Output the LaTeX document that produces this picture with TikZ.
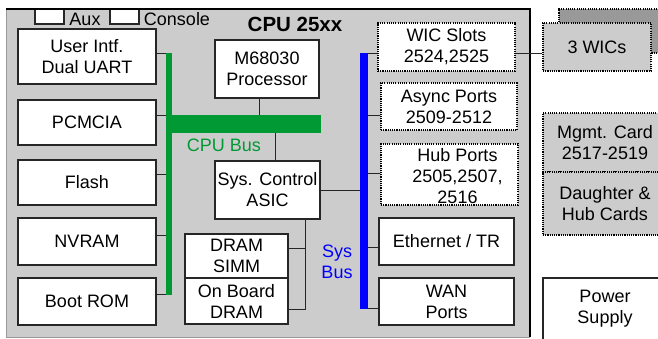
\documentclass[tikz,border=0pt]{standalone}
\usepackage{fontspec}
\setmainfont{Liberation Sans}
\usetikzlibrary{positioning}
\definecolor{busgreen}{RGB}{0,153,51}
\definecolor{busblue}{RGB}{0,0,255}
\definecolor{panelgray}{RGB}{204,204,204}
\definecolor{backgray}{RGB}{153,153,153}
\tikzset{
  blk/.style={draw=black!85,line width=1.2pt,fill=white,inner sep=0pt,align=center},
  dotblk/.style={blk,draw=black,dash pattern=on 1.1pt off 1.1pt,line width=1.4pt},
  wire/.style={line width=1pt,draw=black!85},
  bus/.style={inner sep=0pt,draw=none}
}
% box from corner (x1,y1) to corner (x2,y2), in pixels of the sheet
\newcommand{\hwbox}[7][blk]{%
  \node[#1,minimum width={#5pt-#3pt},minimum height={#6pt-#4pt}] (#2)
    at ({(#3+#5)/2},{(#4+#6)/2}) {#7};
}

\begin{document}
\begin{tikzpicture}[x=1pt,y=-1pt,font=\fontsize{18}{21}\selectfont]
    \useasboundingbox (0,0) rectangle (658,338);
    % cpu board
    \fill[panelgray] (6,9) rectangle (530,337);
    \hwbox{aux}{35}{9}{64}{24}{}
    \hwbox{console}{110}{9}{139}{24}{}
    \draw[backgray,line width=1pt] (6,9) -- (6,337) -- (530,337);
    \draw[black,line width=1.6pt] (6,9) -- (530,9) -- (530,337);
    \node (auxlbl) at (85,19) {Aux};
    \node (conlbl) at (177,19) {Console};
    \node[font=\fontsize{20.5}{24}\selectfont\bfseries] (title) at (295,24.5) {CPU 25xx};
    % left column
    \hwbox{uart}{18}{29}{156}{84}{User Intf.\\Dual UART}
    \hwbox{pcmcia}{18}{100}{156}{145}{PCMCIA}
    \hwbox{flash}{18}{160}{156}{205}{Flash}
    \hwbox{nvram}{18}{218}{156}{265}{NVRAM}
    \hwbox{bootrom}{18}{278}{156}{325}{Boot ROM}
    % middle
    \hwbox{cpu}{215}{40}{319}{98}{M68030\\Processor}
    \hwbox{asic}{215}{161}{320}{219}{Sys. Control\\ASIC}
    \hwbox{simm}{185}{234}{288}{278}{DRAM\\SIMM}
    \hwbox{obdram}{185}{278}{288}{324}{On Board\\DRAM}
    % right column
    \hwbox[dotblk]{wic}{378}{23}{515}{71}{WIC Slots\\2524,2525}
    \hwbox[dotblk]{async}{381}{83}{517}{130}{Async Ports\\2509-2512}
    \hwbox[dotblk]{hub}{381}{144}{518}{205}{}
    \node[align=center] (hublbl) at ([xshift=8pt,yshift=-1.5pt]hub.center) {Hub Ports\\2505,2507,\\2516};
    \hwbox{ether}{379}{218}{514}{265}{Ethernet / TR}
    \hwbox{wan}{379}{278}{514}{325}{WAN\\Ports}
    % outside the board
    \hwbox[dotblk,fill=backgray]{wicsback}{559}{9}{675}{53}{}
    \hwbox[dotblk,fill=panelgray]{wics}{543}{23}{651}{71}{3 WICs}
    \hwbox[dotblk,fill=panelgray]{mgmt}{543}{113}{667}{172}{Mgmt. Card\\2517-2519}
    \hwbox[dotblk,fill=panelgray]{daughter}{543}{172}{667}{235}{Daughter \&\\Hub Cards}
    \hwbox{power}{543}{278}{667}{340}{Power\\Supply}
    % buses
    \node[bus,fill=busgreen,minimum width=6pt,minimum height=242pt] (gbus) at (169,174) {};
    \node[bus,fill=busgreen,minimum width=155pt,minimum height=18pt] (gbar) at (243.5,124) {};
    \node[bus,fill=busblue,minimum width=8pt,minimum height=256pt] (bbus) at (364,181) {};
    \node[text=busgreen] (gbuslbl) at (224,145) {CPU Bus};
    \node[text=busblue,align=center] (bbuslbl) at (337,262) {Sys\\Bus};
    % stubs to the cpu bus
    \foreach \unit/\dy in {uart/3.5,pcmcia/7.5,flash/8.5,nvram/6.5,bootrom/7.5}
      \draw[wire] ([yshift=\dy pt]\unit.east) -- ([yshift=\dy pt]\unit.east -| gbus.west);
    \draw[wire] ([xshift=-8pt]cpu.south) -- ([xshift=-8pt]cpu.south |- gbar.north);
    \draw[wire] ([xshift=7.5pt]asic.north) -- ([xshift=7.5pt]asic.north |- gbar.south);
    % dram
    \coordinate (ramtap) at ([xshift=37.5pt]asic.south);
    \draw[wire] (ramtap) |- ([yshift=-8pt]obdram.east);
    \draw[wire] ([yshift=8pt]simm.east) -- ([yshift=8pt]simm.east -| ramtap);
    % stubs to the sys bus
    \draw[wire] (asic.east) -- (asic.east -| bbus.west);
    \foreach \unit/\dy in {wic/-6,async/-8.5,hub/1.5,ether/-5.5,wan/-6.5}
      \draw[wire] ([yshift=\dy pt]\unit.west) -- ([yshift=\dy pt]\unit.west -| bbus.east);
    \draw[wire] ([yshift=-6pt]wic.east) -- ([yshift=-6pt]wic.east -| wics.west);
  \end{tikzpicture}
\end{document}
